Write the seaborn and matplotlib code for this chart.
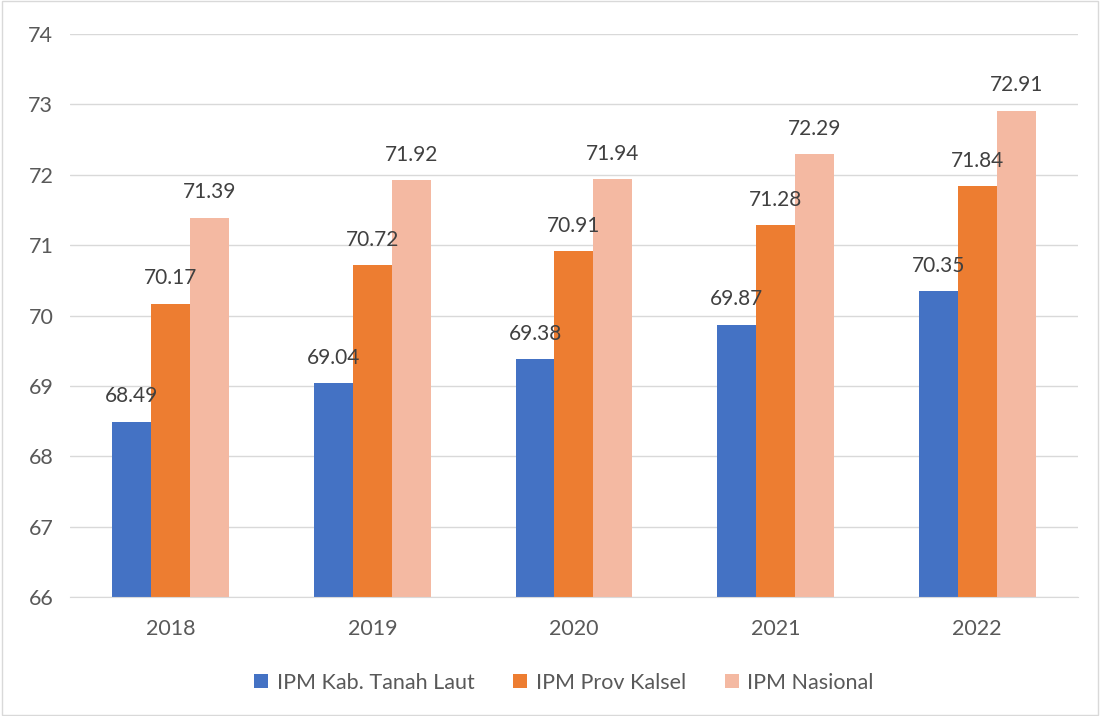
import pandas as pd
import matplotlib.pyplot as plt
import seaborn as sns

years = ['2018', '2019', '2020', '2021', '2022']
series = ['IPM Kab. Tanah Laut', 'IPM Prov Kalsel', 'IPM Nasional']
tanah_laut = [68.49, 69.04, 69.38, 69.87, 70.35]
kalsel = [70.17, 70.72, 70.91, 71.28, 71.84]
nasional = [71.39, 71.92, 71.94, 72.29, 72.91]
colors = ['#4472C4', '#ED7D31', '#F4B9A2']

df = pd.DataFrame({
    'year': years * 3,
    'series': [s for s in series for _ in years],
    'value': tanah_laut + kalsel + nasional,
})

sns.set_style('white')
plt.rcParams['font.family'] = ['Lato', 'DejaVu Sans']

fig = plt.figure(figsize=(11, 7.16), dpi=100)
ax = fig.add_axes([0.0636, 0.1662, 0.9164, 0.7863])

sns.barplot(data=df, x='year', y='value', hue='series', palette=colors,
            saturation=1, width=0.58, gap=0, linewidth=0, ax=ax, legend=True)

# bars start at the bottom of the axis, not at zero
ax.set_ylim(66, 74)
for bar in ax.patches:
    h = bar.get_height()
    if h > 0:
        bar.set_y(66)
        bar.set_height(h - 66)

for cont in ax.containers:
    labels = [f'{b.get_y() + b.get_height():.2f}' for b in cont]
    ax.bar_label(cont, labels=labels, padding=11, fontsize=15, color='#404040')

ax.set_yticks(range(66, 75))
ax.yaxis.grid(True, color='#D9D9D9', linewidth=1)
ax.set_axisbelow(True)
for s in ['top', 'right', 'left']:
    ax.spines[s].set_visible(False)
ax.spines['bottom'].set_color('#D9D9D9')
ax.tick_params(axis='both', length=0, labelsize=15.5, colors='#595959')
ax.tick_params(axis='x', pad=16)
ax.tick_params(axis='y', pad=12)
ax.set_xlabel('')
ax.set_ylabel('')

ax.legend(loc='upper center', bbox_to_anchor=(0.49, -0.1), ncol=3, frameon=False,
          fontsize=15.5, handlelength=0.65, handleheight=0.65, columnspacing=1.8,
          handletextpad=0.4, labelcolor='#595959')

border = plt.Rectangle((0.002, 0.002), 0.996, 0.996, transform=fig.transFigure,
                       fill=False, edgecolor='#D9D9D9', linewidth=1)
fig.patches.append(border)

fig.savefig('out.png', dpi=100)
